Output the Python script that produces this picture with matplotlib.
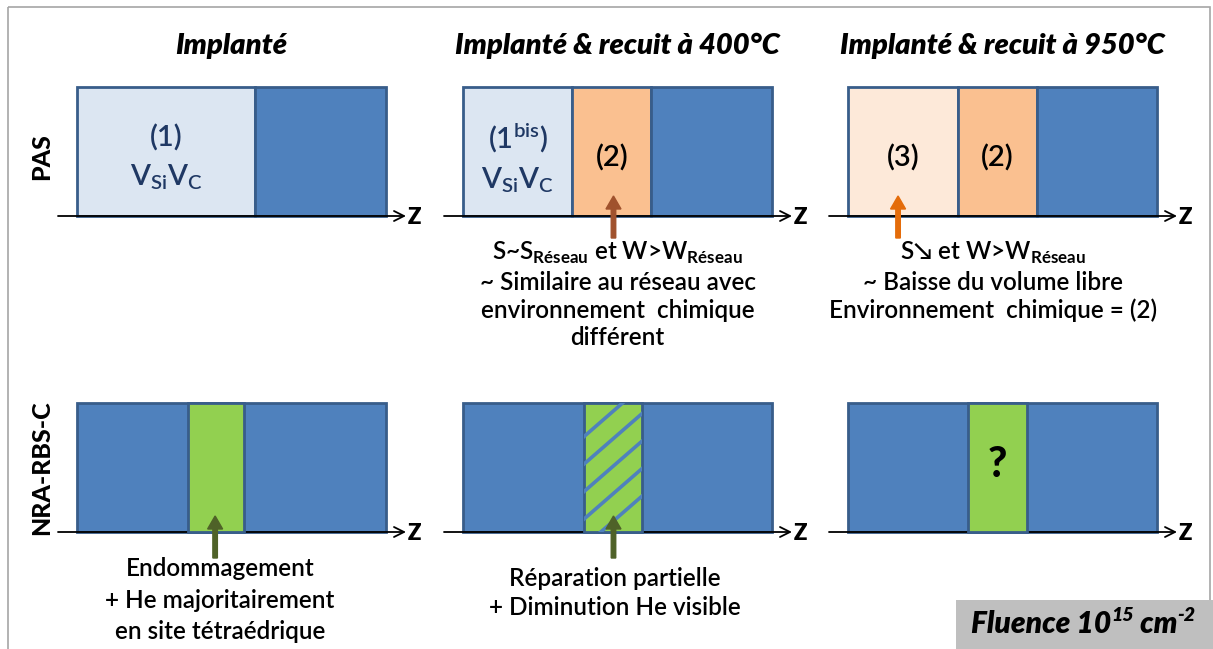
import numpy as np
import matplotlib
matplotlib.use("Agg")
import matplotlib.pyplot as plt
from matplotlib.patches import Rectangle

plt.rcParams['font.family'] = ['Lato', 'DejaVu Sans']
plt.rcParams['font.weight'] = 'semibold'
plt.rcParams['mathtext.fontset'] = 'custom'
plt.rcParams['mathtext.rm'] = 'Lato:semibold'
plt.rcParams['mathtext.bf'] = 'Lato:bold'

# --- data -------------------------------------------------------------
titles = ["Implanté", "Implanté & recuit à 400°C", "Implanté & recuit à 950°C"]
rows = ["PAS", "NRA-RBS-C"]

# PAS layers: boundaries as fraction of the depth, fill, label
pas_edges = [[0, 0.576, 1.0], [0, 0.354, 0.61, 1.0], [0, 0.356, 0.612, 1.0]]
pas_fill = [["#dce6f2", "#4f81bd"],
            ["#dce6f2", "#fac090", "#4f81bd"],
            ["#fde9d9", "#fac090", "#4f81bd"]]
pas_label = [[r"(1)" + "\n" + r"V$_{\mathrm{Si}}$V$_{\mathrm{C}}$", ""],
             [r"(1$^{\mathrm{bis}}$)" + "\n" + r"V$_{\mathrm{Si}}$V$_{\mathrm{C}}$", "(2)", ""],
             ["(3)", "(2)", ""]]
pas_arrow = [None, 0.487, 0.162]
pas_arrow_col = [None, "#a0522d", "#e46c0a"]
pas_notes = ["",
             "S~S$_{\\mathbf{Réseau}}$ et W>W$_{\\mathbf{Réseau}}$\n~ Similaire au réseau avec\n"
             "environnement  chimique\ndifférent",
             "S\u2198 et W>W$_{\\mathbf{Réseau}}$\n~ Baisse du volume libre\nEnvironnement  chimique = (2)"]
pas_note_x = [0, 0.5, 0.47]

# NRA-RBS-C: damaged band (start, end) as fraction of the depth
nra_band = [(0.359, 0.54), (0.39, 0.578), (0.388, 0.579)]
nra_hatched = [False, True, False]
nra_label = ["", "", "?"]
nra_arrow = [0.447, 0.487, None]
nra_notes = ["Endommagement\n+ He majoritairement\nen site tétraédrique",
             "Réparation partielle\n+ Diminution He visible", ""]
nra_note_x = [0.463, 0.49, 0]

fluence_parts = ["Fluence 10", "15", " cm", "-2"]

# --- layout -----------------------------------------------------------
x0s = [77, 463, 848]
box_w = 309
row_top = [87, 403]
box_h = 129
edge = "#385d8a"
blue = "#4f81bd"
green = "#92d050"

fig = plt.figure(figsize=(12.13, 6.49), dpi=100)
ax = fig.add_axes([0, 0, 1, 1])
ax.set_xlim(0, 1213)
ax.set_ylim(649, 0)
ax.axis('off')

# outer frame
ax.add_patch(Rectangle((8, 7), 1202, 700, fill=False, ec="#a6a6a6", lw=1.2))


def z_axis(x0, ybase):
    ax.annotate("", xy=(x0 + box_w + 20, ybase), xytext=(x0 - 19, ybase),
                arrowprops=dict(arrowstyle="->", color="black", lw=1.3,
                                mutation_scale=18, shrinkA=0, shrinkB=0))
    ax.text(x0 + box_w + 22, ybase + 1, "Z", fontsize=16, fontweight='heavy',
            ha='left', va='center')


def up_arrow(x, y_tip, color):
    ax.arrow(x, y_tip + 42, 0, -42, width=4.5, head_width=15, head_length=13,
             length_includes_head=True, color=color, zorder=6)


for i in range(3):
    x0 = x0s[i]
    cx = x0 + box_w / 2
    ax.text(cx, 46, titles[i], fontsize=21, fontweight='heavy', style='italic',
            ha='center', va='center')

    # PAS row
    top = row_top[0]
    e = pas_edges[i]
    for k in range(len(e) - 1):
        xa = x0 + e[k] * box_w
        w = (e[k + 1] - e[k]) * box_w
        ax.add_patch(Rectangle((xa, top), w, box_h, fc=pas_fill[i][k], ec=edge,
                               lw=2, zorder=3))
        if pas_label[i][k]:
            col = "#1f3864" if "V" in pas_label[i][k] else "black"
            ax.text(xa + w / 2, top + 71, pas_label[i][k], fontsize=21,
                    ha='center', va='center', color=col, linespacing=1.45, zorder=5)
    z_axis(x0, top + box_h)
    if pas_arrow[i] is not None:
        up_arrow(x0 + pas_arrow[i] * box_w, 196, pas_arrow_col[i])
    if pas_notes[i]:
        ax.text(x0 + pas_note_x[i] * box_w, 240, pas_notes[i], fontsize=17.5,
                ha='center', va='top', linespacing=1.25)

    # NRA-RBS-C row
    top = row_top[1]
    ax.add_patch(Rectangle((x0, top), box_w, box_h, fc=blue, ec=edge, lw=2, zorder=3))
    b0, b1 = nra_band[i]
    band = Rectangle((x0 + b0 * box_w, top), (b1 - b0) * box_w, box_h, fc=green,
                     ec=edge, lw=2, zorder=4)
    ax.add_patch(band)
    if nra_hatched[i]:
        bx = x0 + b0 * box_w
        bw = (b1 - b0) * box_w
        xs = np.array([bx - 5, bx + bw + 5])
        for y0 in np.arange(437, 570, 27.5):
            ln, = ax.plot(xs, y0 - 0.87 * (xs - bx), color=blue, lw=2.6, zorder=5,
                          solid_capstyle='butt')
            ln.set_clip_path(band)
    if nra_label[i]:
        ax.text(x0 + (b0 + b1) / 2 * box_w, top + 62, nra_label[i], fontsize=30,
                fontweight='black', ha='center', va='center', zorder=6)
    z_axis(x0, top + box_h)
    if nra_arrow[i] is not None:
        up_arrow(x0 + nra_arrow[i] * box_w, 516, "#4f6228")
    if nra_notes[i]:
        ax.text(x0 + nra_note_x[i] * box_w, 557 if i == 0 else 567, nra_notes[i],
                fontsize=17.5, ha='center', va='top',
                linespacing=1.45 if i == 0 else 1.3)

# row labels
ax.text(42, 157, rows[0], fontsize=18, fontweight='black', rotation=90,
        ha='center', va='center')
ax.text(42, 468, rows[1], fontsize=18, fontweight='black', rotation=90,
        ha='center', va='center')

# fluence box
ax.add_patch(Rectangle((956, 600), 260, 60, fc="#bfbfbf", ec="none", zorder=2))
fkw = dict(fontweight='heavy', style='italic', zorder=3)
t1 = ax.text(971, 633, fluence_parts[0], fontsize=21.5, ha='left',
             va='baseline', **fkw)
t2 = ax.annotate(fluence_parts[1], xy=(1, 0.5), xycoords=t1, fontsize=14,
                 ha='left', va='bottom', **fkw)
t3 = ax.annotate(fluence_parts[2], xy=(1, 0), xycoords=(t2, t1), fontsize=21.5,
                 ha='left', va='bottom', **fkw)
ax.annotate(fluence_parts[3], xy=(1, 0.5), xycoords=t3, fontsize=14,
            ha='left', va='bottom', **fkw)

fig.savefig("out.png", dpi=100)
